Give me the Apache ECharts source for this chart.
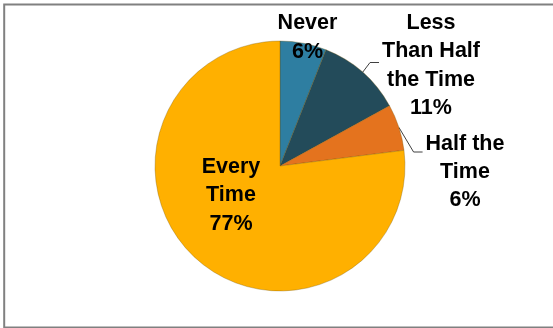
<!DOCTYPE html>
<html>
<head>
<meta charset="utf-8">
<script src="https://cdn.jsdelivr.net/npm/echarts@6/dist/echarts.min.js"></script>
<style>html,body{margin:0;padding:0;background:#fff;}#c{width:553px;height:328px;}</style>
</head>
<body>
<div id="c"></div>
<script>
const categories = ['Never', 'Less\nThan Half\nthe Time', 'Half the\nTime', 'Every\nTime'];
const values = [6, 11, 6, 77];
const colors = ['#2E7EA1', '#234B5A', '#E4731E', '#FFB000'];

// label placement (layout only)
const labelPos = [
  {x: 307.5, y: 37.5, line: null},
  {x: 431, y: 65.5, line: -3},
  {x: 465, y: 172, line: -20},
  {x: 231, y: 195.5, line: null}
];

const chart = echarts.init(document.getElementById('c'), null, {renderer: 'canvas'});
const data = categories.map((c, i) => ({
  name: c,
  value: values[i],
  itemStyle: {color: colors[i]},
  labelLine: {show: labelPos[i].line !== null}
}));

chart.setOption({
  animation: false,
  backgroundColor: '#fff',
  graphic: [{
    type: 'rect',
    shape: {x: 4.2, y: 4.5, width: 620, height: 323},
    style: {fill: 'none', stroke: '#808080', lineWidth: 2},
    silent: true
  }],
  series: [{
    type: 'pie',
    center: [280, 166],
    radius: 125,
    startAngle: 90,
    clockwise: true,
    data: data,
    itemStyle: {borderColor: 'rgba(110,80,0,0.45)', borderWidth: 0.7},
    label: {
      show: true,
      position: 'outside',
      formatter: p => p.name + '\n' + p.value + '%',
      fontFamily: 'Liberation Sans, Arial, sans-serif',
      fontWeight: 'bold',
      fontSize: 21.5,
      lineHeight: 28.3,
      color: '#000',
      align: 'center'
    },
    labelLine: {show: true, length: 10, length2: 8, lineStyle: {color: '#404040', width: 1}},
    labelLayout: function (params) {
      const i = params.dataIndex;
      const lp = labelPos[i];
      const out = {x: lp.x, y: lp.y, align: 'center', verticalAlign: 'middle'};
      if (lp.line !== null && params.labelLinePoints) {
        const p0 = params.labelLinePoints[0];
        // compute left edge of widest text line approx
        const left = lp.x - params.labelRect.width / 2;
        const yl = lp.y + lp.line;
        const p2 = [left - 3, yl];
        const p1 = [left - 12, yl];
        out.labelLinePoints = [p0, p1, p2];
      }
      return out;
    }
  }]
});
</script>
</body>
</html>
